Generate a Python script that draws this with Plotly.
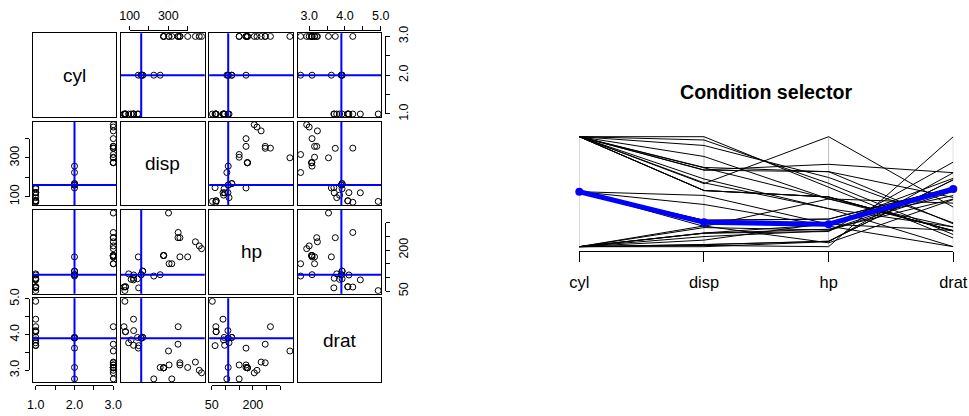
import plotly.graph_objects as go

W, H = 969, 416

car_names = ["Mazda RX4", "Mazda RX4 Wag", "Datsun 710", "Hornet 4 Drive", "Hornet Sportabout",
             "Valiant", "Duster 360", "Merc 240D", "Merc 230", "Merc 280", "Merc 280C",
             "Merc 450SE", "Merc 450SL", "Merc 450SLC", "Cadillac Fleetwood",
             "Lincoln Continental", "Chrysler Imperial", "Fiat 128", "Honda Civic",
             "Toyota Corolla", "Toyota Corona", "Dodge Challenger", "AMC Javelin",
             "Camaro Z28", "Pontiac Firebird", "Fiat X1-9", "Porsche 914-2", "Lotus Europa",
             "Ford Pantera L", "Ferrari Dino", "Maserati Bora", "Volvo 142E"]
cyl = [2, 2, 1, 2, 3, 2, 3, 1, 1, 2, 2, 3, 3, 3, 3, 3, 3, 1, 1, 1, 1, 3, 3, 3, 3, 1, 1, 1, 3, 2, 3, 1]
disp = [160, 160, 108, 258, 360, 225, 360, 146.7, 140.8, 167.6, 167.6, 275.8, 275.8, 275.8,
        472, 460, 440, 78.7, 75.7, 71.1, 120.1, 318, 304, 350, 400, 79, 120.3, 95.1, 351,
        145, 301, 121]
hp = [110, 110, 93, 110, 175, 105, 245, 62, 95, 123, 123, 180, 180, 180, 205, 215, 230, 66,
      52, 65, 97, 150, 150, 245, 175, 66, 91, 113, 264, 175, 335, 109]
drat = [3.90, 3.90, 3.85, 3.08, 3.15, 2.76, 3.21, 3.69, 3.92, 3.92, 3.92, 3.07, 3.07, 3.07,
        2.93, 3.00, 3.23, 4.08, 4.93, 4.22, 3.70, 2.76, 3.15, 3.73, 3.08, 4.08, 4.43, 3.77,
        4.22, 3.62, 3.54, 4.11]
var_names = ["cyl", "disp", "hp", "drat"]
selected = 0  # Mazda RX4

tick_vals = {"cyl": [1.0, 1.5, 2.0, 2.5, 3.0], "disp": [100, 200, 300, 400],
             "hp": [50, 100, 150, 200, 250, 300], "drat": [3.0, 3.5, 4.0, 4.5, 5.0]}
tick_text = {"cyl": ["1.0", "", "2.0", "", "3.0"], "disp": ["100", "", "300", ""],
             "hp": ["50", "", "", "200", "", ""], "drat": ["3.0", "", "4.0", "", "5.0"]}
title_text = "Condition selector"

data = {"cyl": cyl, "disp": disp, "hp": hp, "drat": drat}

# ---- layout constants (pixels) ----
FONT = "Liberation Sans, Arial, Helvetica, sans-serif"
P_LEFT, P_TOP, P_SIZE, P_GAP = 32.6, 33.3, 83.8, 4.5
AX_GAP, TICKLEN = 3.3, 4
STANDOFF = {"top": 1, "bottom": 4, "left": 1, "right": 3}


def fx(px):
    return px / W


def fy(py):
    return 1 - py / H


def rng(v):
    lo, hi = min(v), max(v)
    pad = 0.04 * (hi - lo)
    return [lo - pad, hi + pad]


def ax_id(k):
    return "" if k == 1 else str(k)


ranges = {n: rng(data[n]) for n in var_names}


def col_bounds(j):
    x0 = P_LEFT + j * (P_SIZE + P_GAP)
    return x0, x0 + P_SIZE


def row_bounds(i):
    y0 = P_TOP + i * (P_SIZE + P_GAP)
    return y0, y0 + P_SIZE


def col_px(j, name, v):
    x0, x1 = col_bounds(j)
    lo, hi = ranges[name]
    return x0 + (v - lo) / (hi - lo) * (x1 - x0)


def row_px(i, name, v):
    y0, y1 = row_bounds(i)
    lo, hi = ranges[name]
    return y1 - (v - lo) / (hi - lo) * (y1 - y0)


fig = go.Figure()
layout = dict(width=W, height=H, margin=dict(l=0, r=0, t=0, b=0, pad=0, autoexpand=False),
              paper_bgcolor="white", plot_bgcolor="rgba(0,0,0,0)",
              showlegend=False, font=dict(family=FONT, color="black"))
shapes, annotations = [], []

box_axis = dict(showline=True, mirror=True, linecolor="black", linewidth=1, ticks="",
                showticklabels=False, showgrid=False, zeroline=False, fixedrange=True,
                automargin=False)

for i, yn in enumerate(var_names):
    for j, xn in enumerate(var_names):
        k = i * 4 + j + 1
        xa, ya = "x" + ax_id(k), "y" + ax_id(k)
        x0, x1 = col_bounds(j)
        y0, y1 = row_bounds(i)
        layout["xaxis" + ax_id(k)] = dict(box_axis, domain=[fx(x0), fx(x1)], anchor=ya,
                                          range=ranges[xn] if i != j else [0, 1])
        layout["yaxis" + ax_id(k)] = dict(box_axis, domain=[fy(y1), fy(y0)], anchor=xa,
                                          range=ranges[yn] if i != j else [0, 1])
        if i == j:
            fig.add_trace(go.Scatter(x=[], y=[], xaxis=xa, yaxis=ya, hoverinfo="skip"))
            annotations.append(dict(text=xn, xref=f"{xa} domain", yref=f"{ya} domain",
                                    x=0.5, y=0.5, showarrow=False,
                                    font=dict(size=19, family=FONT, color="black")))
            continue
        fig.add_trace(go.Scatter(
            x=data[xn], y=data[yn], xaxis=xa, yaxis=ya, mode="markers",
            marker=dict(symbol="circle-open", size=6, color="black", line=dict(width=1)),
            text=car_names, hoverinfo="text"))
        sx, sy = data[xn][selected], data[yn][selected]
        shapes.append(dict(type="line", xref=xa, yref=f"{ya} domain", x0=sx, x1=sx, y0=0, y1=1,
                           line=dict(color="#0000FF", width=2)))
        shapes.append(dict(type="line", xref=f"{xa} domain", yref=ya, x0=0, x1=1, y0=sy, y1=sy,
                           line=dict(color="#0000FF", width=2)))

# ---- outer (R style) axes: line spans first..last tick, offset from the box ----
deco_x = [(1, "disp", "top"), (3, "drat", "top"), (0, "cyl", "bottom"), (2, "hp", "bottom")]
deco_y = [(1, "disp", "left"), (3, "drat", "left"), (0, "cyl", "right"), (2, "hp", "right")]

tick_axis = dict(showline=True, linecolor="black", linewidth=1, ticks="outside",
                 ticklen=TICKLEN, tickwidth=1, tickcolor="black", showgrid=False,
                 zeroline=False, fixedrange=True, anchor="free", automargin=False,
                 tickfont=dict(size=12.5, family=FONT, color="black"))

for n, ((j, xn, xside), (i, yn, yside)) in enumerate(zip(deco_x, deco_y)):
    k = 17 + n
    tv = tick_vals[xn]
    px0, px1 = col_px(j, xn, tv[0]), col_px(j, xn, tv[-1])
    top_y = row_bounds(0)[0]
    bot_y = row_bounds(3)[1]
    pos = fy(top_y - AX_GAP) if xside == "top" else fy(bot_y + AX_GAP)
    layout[f"xaxis{k}"] = dict(tick_axis, domain=[fx(px0), fx(px1)], range=[tv[0], tv[-1]],
                               tickvals=tv, ticktext=tick_text[xn], side=xside, position=pos,
                               ticklabelstandoff=STANDOFF[xside])
    tv = tick_vals[yn]
    py0, py1 = row_px(i, yn, tv[0]), row_px(i, yn, tv[-1])
    left_x = col_bounds(0)[0]
    right_x = col_bounds(3)[1]
    pos = fx(left_x - AX_GAP) if yside == "left" else fx(right_x + AX_GAP)
    layout[f"yaxis{k}"] = dict(tick_axis, domain=[fy(py0), fy(py1)], range=[tv[0], tv[-1]],
                               tickvals=tv, ticktext=tick_text[yn], side=yside, position=pos,
                               tickangle=-90, ticklabelstandoff=STANDOFF[yside])
    fig.add_trace(go.Scatter(x=[], y=[], xaxis=f"x{k}", yaxis=f"y{k}", hoverinfo="skip"))

# ---- parallel coordinates ("Condition selector") ----
PC_X0, PC_X1 = 579.3, 953.3      # pixel positions of first/last variable axis
PC_Y0, PC_Y1 = 132.3, 251.1      # plot region (value range -0.04..1.04)


def scaled(name):
    v = data[name]
    lo, hi = min(v), max(v)
    return [(a - lo) / (hi - lo) for a in v]


sc = {n: scaled(n) for n in var_names}
pos_idx = list(range(1, len(var_names) + 1))

gx, gy = [], []
for p in pos_idx:
    gx += [p, p, None]
    gy += [0, 1, None]
lx, ly = [], []
for r in range(len(car_names)):
    lx += pos_idx + [None]
    ly += [sc[n][r] for n in var_names] + [None]

layout["xaxis21"] = dict(domain=[fx(PC_X0), fx(PC_X1)], range=[1, len(var_names)], anchor="y21",
                         side="bottom", showline=True, linecolor="black", linewidth=1,
                         ticks="outside", ticklen=10, tickwidth=1, tickcolor="black",
                         tickvals=pos_idx, ticktext=var_names, showgrid=False, zeroline=False,
                         fixedrange=True, automargin=False, ticklabelstandoff=6,
                         tickfont=dict(size=16.4, family=FONT, color="black"))
layout["yaxis21"] = dict(domain=[fy(PC_Y1), fy(PC_Y0)], range=[-0.04, 1.04], anchor="x21",
                         visible=False, fixedrange=True, automargin=False)

fig.add_trace(go.Scatter(x=gx, y=gy, xaxis="x21", yaxis="y21", mode="lines",
                         line=dict(color="#BEBEBE", width=1), hoverinfo="skip", cliponaxis=False))
fig.add_trace(go.Scatter(x=lx, y=ly, xaxis="x21", yaxis="y21", mode="lines",
                         line=dict(color="black", width=1), hoverinfo="skip", cliponaxis=False))
fig.add_trace(go.Scatter(x=pos_idx, y=[sc[n][selected] for n in var_names],
                         xaxis="x21", yaxis="y21", mode="lines+markers",
                         line=dict(color="#0000FF", width=5),
                         marker=dict(color="#0000FF", size=8), cliponaxis=False,
                         text=[car_names[selected]] * 4, hoverinfo="text"))

annotations.append(dict(text=f"<b>{title_text}</b>", xref="paper", yref="paper",
                        x=fx((PC_X0 + PC_X1) / 2), y=fy(91.7), xanchor="center",
                        yanchor="middle", showarrow=False,
                        font=dict(size=19.6, family=FONT, color="black")))

layout["shapes"] = shapes
layout["annotations"] = annotations
fig.update_layout(**layout)
fig.write_html("out.html", config={"displayModeBar": False},
               post_script="document.body.style.margin='0';document.body.style.overflow='hidden';")
